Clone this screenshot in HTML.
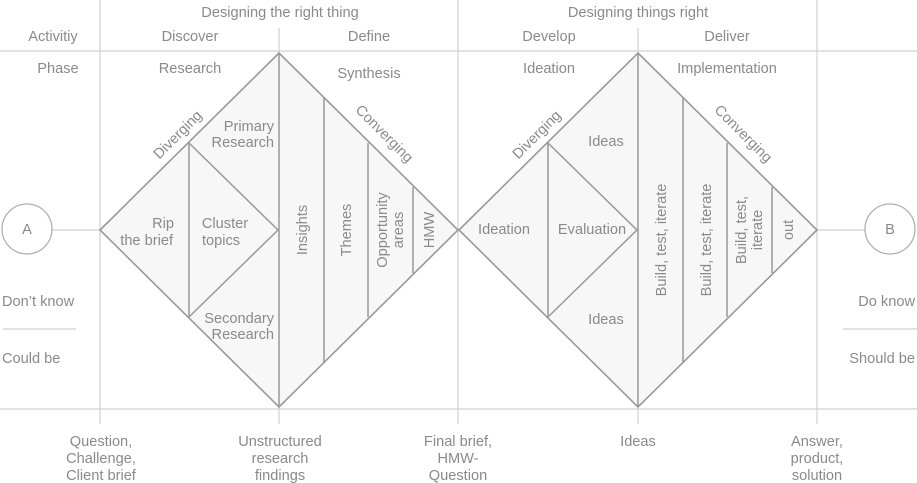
<!DOCTYPE html>
<html><head><meta charset="utf-8"><style>
html,body{margin:0;padding:0;background:#fff;}
svg{display:block;}
text{font-family:"Liberation Sans",sans-serif;font-size:14.6px;fill:#8a8a8a;}
</style></head><body>
<svg width="917" height="483" viewBox="0 0 917 483" xmlns="http://www.w3.org/2000/svg">
<g stroke="#d0d0d0" stroke-width="1.2" fill="none">
<line x1="0" y1="51" x2="917" y2="51"/>
<line x1="0" y1="409" x2="917" y2="409"/>
<line x1="100" y1="0" x2="100" y2="424"/>
<line x1="458" y1="0" x2="458" y2="424"/>
<line x1="817" y1="0" x2="817" y2="424"/>
<line x1="279" y1="28" x2="279" y2="424"/>
<line x1="638" y1="28" x2="638" y2="424"/>
<line x1="3" y1="329" x2="76" y2="329"/>
<line x1="843" y1="329" x2="917" y2="329"/>
<line x1="52" y1="230" x2="100" y2="230"/>
<line x1="817" y1="230" x2="865" y2="230"/>
</g>
<circle cx="27" cy="229" r="25" fill="#fff" stroke="#b0b0b0" stroke-width="1.3"/>
<circle cx="890" cy="229" r="25" fill="#fff" stroke="#b0b0b0" stroke-width="1.3"/>
<g stroke="#999" stroke-width="1.6" fill="#f7f7f7">
<polygon points="100,230 279,53 458,230 279,407"/>
<polygon points="459,230 638,53 817,230 638,407"/>
</g>
<g stroke="#999" stroke-width="1.5" fill="none">
<line x1="279" y1="53" x2="279" y2="407"/>
<line x1="189" y1="143" x2="189" y2="317"/>
<polyline points="189,143 278,230 189,317"/>
<line x1="324" y1="98" x2="324" y2="362"/>
<line x1="368" y1="143" x2="368" y2="317"/>
<line x1="413" y1="187" x2="413" y2="273"/>
<line x1="638" y1="53" x2="638" y2="407"/>
<line x1="548" y1="143" x2="548" y2="317"/>
<polyline points="548,143 637,230 548,317"/>
<line x1="683" y1="98" x2="683" y2="362"/>
<line x1="727" y1="143" x2="727" y2="317"/>
<line x1="772" y1="187" x2="772" y2="273"/>
</g>
<g text-anchor="middle">
<text x="280" y="17">Designing the right thing</text>
<text x="638" y="17">Designing things right</text>
<text x="53" y="41">Activitiy</text>
<text x="190" y="41">Discover</text>
<text x="369" y="41">Define</text>
<text x="549" y="41">Develop</text>
<text x="727" y="41">Deliver</text>
<text x="58" y="73">Phase</text>
<text x="190" y="73">Research</text>
<text x="369" y="78">Synthesis</text>
<text x="549" y="73">Ideation</text>
<text x="727" y="73">Implementation</text>
<text x="27" y="234" font-size="16">A</text>
<text x="890" y="234" font-size="16">B</text>
<text x="225" y="228">Cluster</text>
<text x="221" y="245">topics</text>
<text x="504" y="234">Ideation</text>
<text x="592" y="234">Evaluation</text>
<text x="606" y="146">Ideas</text>
<text x="606" y="324">Ideas</text>
<text x="101" y="446">Question,</text>
<text x="101" y="463">Challenge,</text>
<text x="101" y="480">Client brief</text>
<text x="280" y="446">Unstructured</text>
<text x="280" y="463">research</text>
<text x="280" y="480">findings</text>
<text x="458" y="446">Final brief,</text>
<text x="458" y="463">HMW-</text>
<text x="458" y="480">Question</text>
<text x="638" y="446">Ideas</text>
<text x="817" y="446">Answer,</text>
<text x="817" y="463">product,</text>
<text x="817" y="480">solution</text>
</g>
<g text-anchor="end">
<text x="174" y="228">Rip</text>
<text x="173" y="245">the brief</text>
<text x="274" y="131">Primary</text>
<text x="274" y="147">Research</text>
<text x="274" y="323">Secondary</text>
<text x="274" y="339">Research</text>
<text x="915" y="306">Do know</text>
<text x="915" y="363">Should be</text>
</g>
<text x="2" y="306">Don’t know</text>
<text x="2" y="363">Could be</text>
<text transform="translate(181,138) rotate(-45)" text-anchor="middle">Diverging</text>
<text transform="translate(540,138) rotate(-45)" text-anchor="middle">Diverging</text>
<text transform="translate(381,137) rotate(45)" text-anchor="middle">Converging</text>
<text transform="translate(740,137) rotate(45)" text-anchor="middle">Converging</text>
<g text-anchor="middle">
<text transform="translate(307,230) rotate(-90)">Insights</text>
<text transform="translate(351,230) rotate(-90)">Themes</text>
<text transform="translate(387,230) rotate(-90)">Opportunity</text>
<text transform="translate(403,230) rotate(-90)">areas</text>
<text transform="translate(434,230) rotate(-90)">HMW</text>
<text transform="translate(666,240) rotate(-90)">Build, test, iterate</text>
<text transform="translate(711,240) rotate(-90)">Build, test, iterate</text>
<text transform="translate(746,230) rotate(-90)">Build, test,</text>
<text transform="translate(762,230) rotate(-90)">iterate</text>
<text transform="translate(793,230) rotate(-90)">out</text>
</g>
</svg>
</body></html>
